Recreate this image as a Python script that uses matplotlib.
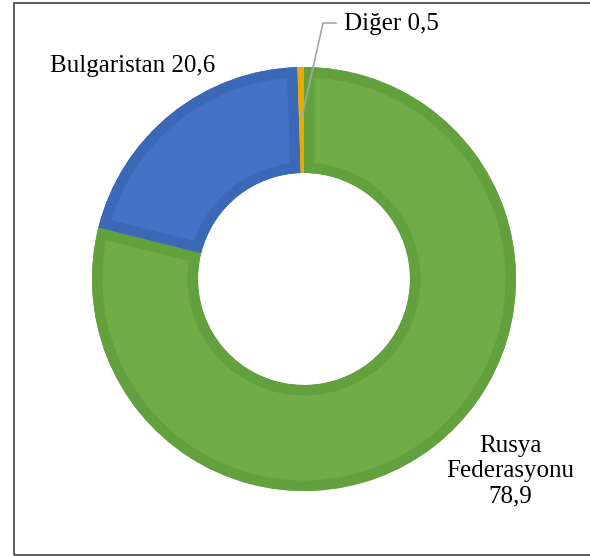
import matplotlib
matplotlib.use("Agg")
import matplotlib.pyplot as plt
from matplotlib.patches import Rectangle
from matplotlib.lines import Line2D

categories = ["Rusya Federasyonu", "Bulgaristan", "Diğer"]
values = [78.9, 20.6, 0.5]
label_texts = ["Rusya\nFederasyonu\n78,9", "Bulgaristan 20,6", "Diğer 0,5"]
face_colors = ["#70AD47", "#4472C4", "#FFC000"]
edge_colors = ["#63A03E", "#3C68B8", "#E6AC00"]

plt.rcParams['font.family'] = ['Liberation Serif', 'DejaVu Serif']

W, H = 590, 556
fig = plt.figure(figsize=(W / 100, H / 100), dpi=100)
ax = fig.add_axes([0, 0, 1, 1])

cx, cy = 304, H - 279
R = 212
# face layer
faces, _ = ax.pie(values, colors=face_colors, startangle=90, counterclock=False,
                  center=(cx, cy), radius=R, frame=True,
                  wedgeprops=dict(width=106, linewidth=0))
# border layer (clipped to each face so the border sits inside the wedge)
borders, _ = ax.pie(values, colors=face_colors, startangle=90, counterclock=False,
                    center=(cx, cy), radius=R, frame=True,
                    wedgeprops=dict(width=106, linewidth=15, fill=False))
for b, f, ec in zip(borders, faces, edge_colors):
    b.set_edgecolor(ec)
    b.set_clip_on(True)
    b.set_clip_path(f.get_path(), f.get_transform())

ax.set_xlim(0, W)
ax.set_ylim(0, H)
ax.set_aspect('equal')
ax.axis('off')

fs = 18
ax.text(510, H - 471, label_texts[0], ha='center', va='center', fontsize=fs,
        linespacing=1.2, color='black')
ax.text(50, H - 66, label_texts[1], ha='left', va='center', fontsize=fs, color='black')
ax.text(344, H - 24, label_texts[2], ha='left', va='center', fontsize=fs, color='black')

# leader line for small slice
ax.add_line(Line2D([302, 323, 336], [H - 117, H - 23, H - 23], color='#A6A6A6', lw=1.2))

# figure frame
fig.add_artist(Rectangle((13.5 / W, 1.5 / H), (W + 10) / W, (H - 4.5) / H,
                         transform=fig.transFigure, fill=False,
                         edgecolor='#404040', lw=1.2))

fig.savefig("out.png", dpi=100, facecolor='white')
